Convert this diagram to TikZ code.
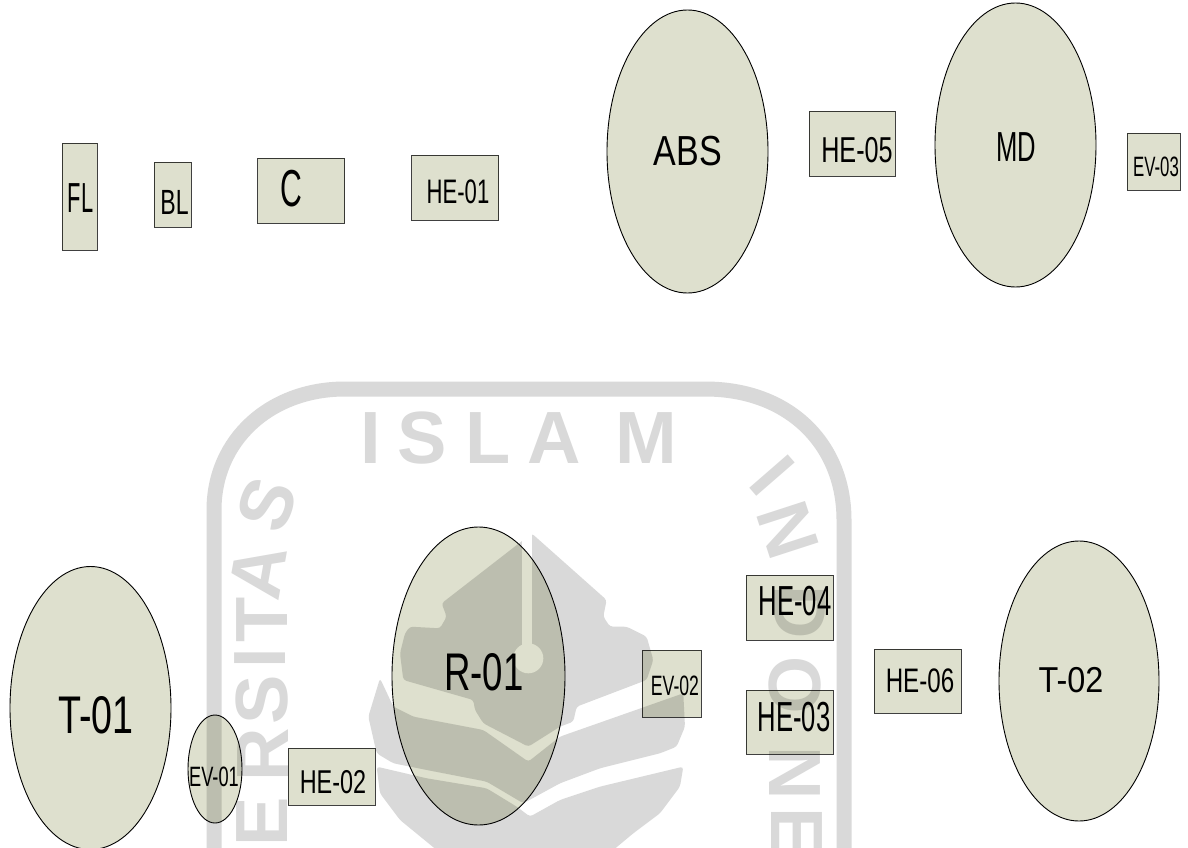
\documentclass[tikz,border=0pt]{standalone}
\usepackage{fontspec}
\setmainfont{Liberation Sans}
\newfontfamily\markfont{Liberation Sans}[BoldFont={Liberation Sans Bold}]
\usetikzlibrary{shapes.geometric}
\definecolor{unitfill}{RGB}{222, 224, 206}
\definecolor{markgray}{RGB}{217, 217, 217}
\tikzset{
	unitbox/.style={draw=black!75, line width=0.9pt, fill=unitfill, inner sep=0pt, minimum width=#1},
	unitoval/.style={ellipse, draw=black, line width=0.9pt, fill=unitfill, inner sep=0pt, minimum width=#1},
	unittag/.style 2 args={inner sep=0pt, text=black, font=\addfontfeature{FakeStretch=#2}\fontsize{#1}{#1}\selectfont},
	markletter/.style={inner sep=0pt, text=markgray, font=\markfont\bfseries\fontsize{#1}{#1}\selectfont},
	markletter/.default=74,
}
\begin{document}
\begin{tikzpicture}[x=1pt, y=-1pt]
	\useasboundingbox (0,0) rectangle (1188,848);
	\fill[white] (0,0) rectangle (1188,848);

	% watermark ring
	\begin{scope}
		\clip (0,0) rectangle (1188,848);
		\draw[markgray, line width=15pt] (214,860) -- (214,510) .. controls (214,440) and (270,389) .. (345,389)
			-- (705,389) .. controls (790,389) and (844,445) .. (844,520) -- (844,860);

		% watermark letters
		\foreach \letter/\px/\py/\angle in {I/371/438/0, S/422/438/0, L/488/438/0, A/554/438/0, M/646/438/0,
			S/267/505/70, A/258/572/80, T/262/620/90, I/260/658/90, S/262/700/90, R/263/755/90, E/262/822/90,
			I/772/476/-49, N/788/530/-72, D/800/612/-90, O/795/685/-90, N/795/773/-90, E/797/832/-90}
			\node[markletter, rotate=\angle] at (\px,\py) {\letter};

		% watermark emblem
		\begin{scope}[shift={(360,520)}, x=0.3333pt, y=-0.3333pt]
			\fill[markgray, rounded corners=3pt] (490,60) -- (515,40) -- (740,240) -- (730,290) -- (750,320) -- (800,320)
				-- (860,350) -- (880,420) -- (860,480) -- (650,560) -- (640,605) -- (600,620) -- (505,680)
				-- (370,610) -- (345,570) -- (340,540) -- (130,480) -- (120,400) -- (135,340) -- (150,320)
				-- (240,325) -- (260,290) -- (245,250) -- cycle;
			\fill[markgray, rounded corners=3pt] (60,475) -- (100,560) -- (160,590) -- (370,630) -- (505,725) -- (600,650)
				-- (970,520) -- (975,620) -- (950,680) -- (900,700) -- (720,745) -- (600,790) -- (490,850)
				-- (380,785) -- (200,750) -- (100,730) -- (50,700) -- (25,590) -- cycle;
			\fill[markgray, rounded corners=3pt] (50,740) -- (200,775) -- (380,805) -- (470,860) -- (510,890) -- (600,840)
				-- (720,800) -- (970,740) -- (960,800) -- (900,880) -- (820,940) -- (760,990)
				-- (230,990) -- (120,900) -- (60,820) -- cycle;
			\fill[white] (487,30) rectangle (517,380);
			\fill[white] (505,415) circle[radius=15pt];
		\end{scope}
	\end{scope}

	% top row
	\begin{scope}[blend mode=multiply]
		\node[unitbox=35pt, minimum height=107pt] (FL) at (79.5,196.5) {};
		\node[unitbox=37pt, minimum height=65pt] (BL) at (172.5,194.5) {};
		\node[unitbox=87pt, minimum height=65pt] (C) at (301,190.5) {};
		\node[unitbox=87pt, minimum height=65pt] (HE01) at (455,187.5) {};
		\node[unitoval=161pt, minimum height=283pt] (ABS) at (687.5,151.5) {};
		\node[unitbox=86pt, minimum height=65pt] (HE05) at (852,143.5) {};
		\node[unitoval=161pt, minimum height=284pt] (MD) at (1015.5,145) {};
		\node[unitbox=53pt, minimum height=57pt] (EV03) at (1153.5,161.5) {};

		% bottom row
		\node[unitoval=161pt, minimum height=283pt] (T01) at (90.5,708) {};
		\node[unitoval=54pt, minimum height=108pt] (EV01) at (215,769) {};
		\node[unitbox=87pt, minimum height=57pt] (HE02) at (331.5,776.5) {};
		\node[unitoval=173pt, minimum height=298pt] (R01) at (478.5,676) {};
		\node[unitbox=59pt, minimum height=67pt] (EV02) at (671.5,683.5) {};
		\node[unitbox=87pt, minimum height=65pt] (HE04) at (789.5,607.5) {};
		\node[unitbox=87pt, minimum height=64pt] (HE03) at (789.5,722) {};
		\node[unitbox=87pt, minimum height=64pt] (HE06) at (917.5,681) {};
		\node[unitoval=160pt, minimum height=280pt] (T02) at (1079,681) {};
	\end{scope}

	% labels
	\node[unittag={42}{0.52}] (FLtag) at (80.5,198) {FL};
	\node[unittag={35}{0.66}] (BLtag) at (174.5,202) {BL};
	\node[unittag={52}{0.58}] (Ctag) at (291,189) {C};
	\node[unittag={34}{0.65}] (HE01tag) at (458,192) {HE-01};
	\node[unittag={42}{0.81}] (ABStag) at (688,151) {ABS};
	\node[unittag={36}{0.70}] (HE05tag) at (857,150) {HE-05};
	\node[unittag={42}{0.61}] (MDtag) at (1016,147) {MD};
	\node[unittag={28}{0.60}] (EV03tag) at (1156,167) {EV-03};
	\node[unittag={53}{0.71}] (T01tag) at (96,715) {T-01};
	\node[unittag={28}{0.65}] (EV01tag) at (214,777) {EV-01};
	\node[unittag={33}{0.71}] (HE02tag) at (333,782) {HE-02};
	\node[unittag={53}{0.69}] (R01tag) at (484,672) {R-01};
	\node[unittag={28}{0.63}] (EV02tag) at (675,686) {EV-02};
	\node[unittag={42}{0.61}] (HE04tag) at (795,601) {HE-04};
	\node[unittag={42}{0.61}] (HE03tag) at (794,717) {HE-03};
	\node[unittag={34}{0.71}] (HE06tag) at (920,681) {HE-06};
	\node[unittag={36}{0.90}] (T02tag) at (1071,680) {T-02};
\end{tikzpicture}
\end{document}
